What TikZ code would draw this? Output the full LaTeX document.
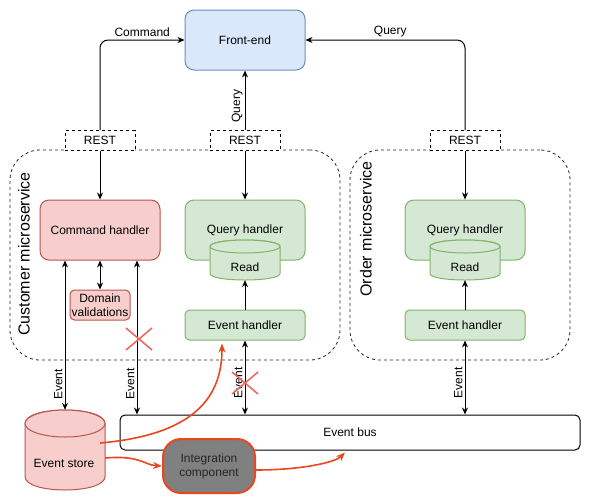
\documentclass[tikz,border=0pt]{standalone}
\usepackage{fontspec}
\setmainfont{Liberation Sans}
\usetikzlibrary{arrows.meta,calc}
\definecolor{bluefill}{HTML}{DAE8FC}
\definecolor{blueline}{HTML}{6C8EBF}
\definecolor{redfill}{HTML}{F8CECC}
\definecolor{redline}{HTML}{B85450}
\definecolor{greenfill}{HTML}{D5E8D4}
\definecolor{greenline}{HTML}{82B366}
\definecolor{redarrow}{HTML}{E8481E}
\definecolor{xred}{HTML}{EA6B66}
\definecolor{integfill}{HTML}{808080}
\newcommand\drawcylinder[6]{%
  \path[#6] (#1,#3+#5) -- (#1,#4-#5) .. controls (#1,#4+0.3333*#5) and (#2,#4+0.3333*#5) .. (#2,#4-#5) -- (#2,#3+#5) .. controls (#2,#3-0.3333*#5) and (#1,#3-0.3333*#5) .. cycle;
  \path[#6] ({(#1+#2)/2},#3+#5) ellipse ({(#2-#1)/2} and #5);
}
\begin{document}
\begin{tikzpicture}[x=1pt,y=-1pt,
  every node/.style={font=\fontsize{12}{14}\selectfont, inner sep=0pt},
  box/.style={draw, rounded corners=9pt, minimum width=120pt, minimum height=60pt, line width=1pt},
  flatbox/.style={box, rounded corners=4.5pt, minimum height=30pt},
  bluebox/.style={box, fill=bluefill, draw=blueline},
  redbox/.style={box, fill=redfill, draw=redline},
  greenbox/.style={box, fill=greenfill, draw=greenline},
  greenflat/.style={flatbox, fill=greenfill, draw=greenline},
  restbox/.style={draw, line width=0.8pt, dash pattern=on 3pt off 3pt, fill=white, minimum width=70pt, minimum height=20pt},
  group/.style={draw=black!85, line width=0.8pt, dash pattern=on 3pt off 3pt, rounded corners=30pt},
  arr/.style={-{Stealth[length=7pt,width=6pt]}, line width=1pt},
  darr/.style={{Stealth[length=7pt,width=6pt]}-{Stealth[length=7pt,width=6pt]}, line width=1pt},
  redarr/.style={-{Stealth[length=9pt,width=7pt]}, draw=redarrow, line width=1.6pt},
  vlbl/.style={rotate=90, anchor=south, inner sep=2pt},
  xmark/.style={draw=xred, line width=1.6pt}
]
\useasboundingbox (0,0) rectangle (591,501);
\fill[white] (0,0) rectangle (591,501);

% containers
\node[group, minimum width=330pt, minimum height=210pt] (cust) at (175,255) {};
\node[group, minimum width=220pt, minimum height=210pt] (ord) at (460,255) {};
\node[rotate=90, font=\fontsize{16}{18}\selectfont] (custlbl) at (24,254) {Customer microservice};
\node[rotate=90, font=\fontsize{16}{18}\selectfont] (ordlbl) at (366,229) {Order microservice};

% front-end and REST
\node[bluebox] (fe) at (245,40) {Front-end};
\node[restbox] (rest1) at (100,140.5) {REST};
\node[restbox] (rest2) at (245,140.5) {REST};
\node[restbox] (rest3) at (465,140.5) {REST};

% customer microservice
\node[redbox] (cmd) at (100,230) {Command handler};
\node[redbox, rounded corners=4.5pt, minimum width=60pt, minimum height=30pt, align=center, font=\fontsize{12}{14}\selectfont] (dv) at (100,305) {Domain\\validations};
\node[greenbox] (qh1) at (245,230) {};
\node (qh1t) at (245,230) {Query handler};
\drawcylinder{210}{280}{240}{280}{6.5}{fill=greenfill, draw=greenline, line width=1pt}
\node[minimum width=70pt, minimum height=40pt] (read1) at (245,260) {};
\node (read1t) at (245,267) {Read};
\node[greenflat] (eh1) at (245,325) {Event handler};

% order microservice
\node[greenbox] (qh2) at (465,230) {};
\node (qh2t) at (465,230) {Query handler};
\drawcylinder{430}{500}{240}{280}{6.5}{fill=greenfill, draw=greenline, line width=1pt}
\node[minimum width=70pt, minimum height=40pt] (read2) at (465,260) {};
\node (read2t) at (465,267) {Read};
\node[greenflat] (eh2) at (465,325) {Event handler};

% event store and bus
\drawcylinder{25}{105}{410}{490}{13.5}{fill=redfill, draw=redline, line width=1pt}
\node[minimum width=80pt, minimum height=80pt] (store) at (65,450) {};
\node (storet) at (64,463) {Event store};
\node[draw, fill=white, line width=1pt, rounded corners=5pt, minimum width=460pt, minimum height=35pt] (bus) at (350,432.5) {Event bus};
\node[draw=redarrow, fill=integfill, line width=2pt, rounded corners=18pt, minimum width=92pt, minimum height=54pt, align=center, text=black!85] (integ) at (209,466) {Integration\\component};

\coordinate (c137) at (137,0);

% front connectors
\draw[arr, rounded corners=8pt] (rest1.north) |- (fe.west) node[pos=0.75, above=3pt] (lcmd) {Command};
\draw[arr, rounded corners=8pt] (rest3.north) |- (fe.east) node[pos=0.75, above=3pt, xshift=5pt] (lq2) {Query};
\draw[arr] (rest2.north) -- (fe.south) node[pos=0.4, vlbl] (lq1) {Query};

\draw[arr] (rest1.south) -- (cmd.north);
\draw[arr] (rest2.south) -- (qh1.north);
\draw[arr] (rest3.south) -- (qh2.north);

\draw[darr] (cmd.south) -- (dv.north);
\draw[arr] (eh1.north) -- (read1.south);
\draw[arr] (eh2.north) -- (read2.south);

% event connectors
\draw[darr] (store.north |- cmd.south) -- (store.north) node[pos=0.83, vlbl] (le1) {Event};
\draw[darr] (cmd.south -| c137) -- (bus.north -| c137) node[pos=0.8, vlbl] (le2) {Event};
\draw[darr] (eh1.south) -- (eh1.south |- bus.north) node[pos=0.57, vlbl] (le3) {Event};
\draw[darr] (eh2.south) -- (eh2.south |- bus.north) node[pos=0.57, vlbl] (le4) {Event};

% red crosses
\draw[xmark] (126,328) -- (152,350) (126,350) -- (152,328);
\draw[xmark] (232,372) -- (258,394) (232,394) -- (258,372);

% red flows
\draw[redarr] ($(store.east)+(-5,-7)$) .. controls +(90,-8) and +(0,57) .. ($(eh1.south)+(-23,3)$);
\draw[redarr] ($(store.east)+(0,8)$) .. controls +(35,-3) and +(-18,-1) .. (integ.west);
\draw[redarr] ($(integ.east)+(0,4)$) .. controls +(45,0) and +(-10,10) .. ($(bus.south)+(-5,2)$);
\end{tikzpicture}
\end{document}
